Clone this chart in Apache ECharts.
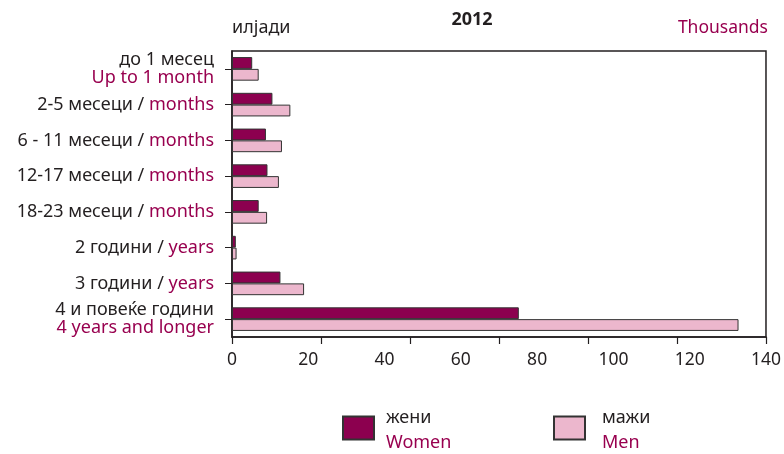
<!DOCTYPE html>
<html><head><meta charset="utf-8">
<script src="https://cdn.jsdelivr.net/npm/echarts@6/dist/echarts.min.js"></script>
<style>html,body{margin:0;padding:0;background:#fff}#c{width:784px;height:454px}</style>
</head><body><div id="c"></div>
<script>
const categoriesMk = ['до 1 месец', '2-5 месеци', '6 - 11 месеци', '12-17 месеци', '18-23 месеци', '2 години', '3 години', '4 и повеќе години'];
const categoriesEn = ['Up to 1 month', 'months', 'months', 'months', 'months', 'years', 'years', '4 years and longer'];
const women = [5.3, 10.6, 8.9, 9.3, 7.0, 1.0, 12.7, 75.2];
const men = [7.0, 15.3, 13.1, 12.3, 9.2, 1.2, 18.9, 132.8];
const xTicks = [0, 20, 40, 60, 80, 100, 120, 140];

const DARK = '#231F20', MAG = '#98004F';
const FONT = '"Noto Sans", sans-serif';
const chart = echarts.init(document.getElementById('c'));
const labels = categoriesMk.map((mk, i) => {
  const en = categoriesEn[i];
  if (i === 0 || i === categoriesMk.length - 1) return '{k|' + mk + '}\n{m|' + en + '}';
  return '{k|' + mk + ' / }{m|' + en + '}';
});
const legRich = { a: { fontSize: 18, color: DARK, lineHeight: 25, fontFamily: FONT }, b: { fontSize: 18, color: MAG, lineHeight: 25, fontFamily: FONT } };
chart.setOption({
  animation: false,
  textStyle: { fontFamily: FONT },
  title: [
    { text: '2012', left: 467, top: 6, textAlign: 'center', textStyle: { fontFamily: FONT, fontSize: 18, fontWeight: 'bold', color: DARK } },
    { text: 'илјади', left: 227, top: 14, textStyle: { fontFamily: FONT, fontSize: 18, fontWeight: 'normal', color: DARK } },
    { text: 'Thousands', right: 11, top: 14, textStyle: { fontFamily: FONT, fontSize: 17.5, fontWeight: 'normal', color: MAG } }
  ],
  grid: { left: 232, right: 16, top: 51, height: 286, containLabel: false, show: true, borderColor: DARK, borderWidth: 1.5 },
  legend: [
    { data: ['жени'], left: 337, top: 404, itemWidth: 31, itemHeight: 23, icon: 'rect',
      formatter: n => '{a|жени}\n{b|Women}',
      textStyle: { padding: [5, 0, 0, 7], rich: legRich } },
    { data: ['мажи'], left: 548, top: 404, itemWidth: 31, itemHeight: 23, icon: 'rect',
      formatter: n => '{a|мажи}\n{b|Men}',
      textStyle: { padding: [5, 0, 0, 12], rich: legRich } }
  ],
  xAxis: [
    { type: 'value', min: xTicks[0], max: xTicks[xTicks.length - 1], interval: 20, position: 'bottom',
      axisLine: { show: true, lineStyle: { color: DARK, width: 1.5 } },
      axisTick: { show: false }, splitLine: { show: false },
      axisLabel: { fontSize: 17.5, color: DARK, margin: 14, fontFamily: FONT } },
    { type: 'value', min: 0, max: 120, interval: 20, position: 'bottom',
      axisLine: { show: false }, axisTick: { show: true, length: 7, lineStyle: { color: DARK, width: 1.2 } },
      axisLabel: { show: false }, splitLine: { show: false } }
  ],
  yAxis: {
    type: 'category', data: labels, inverse: true,
    axisLine: { show: true, lineStyle: { color: DARK, width: 1.5 } },
    axisTick: { show: true, alignWithLabel: true, length: 7, lineStyle: { color: DARK } },
    axisLabel: { fontSize: 18, color: DARK, margin: 18, lineHeight: 18, align: 'right', fontFamily: FONT,
      rich: { k: { fontSize: 18, color: DARK, lineHeight: 18, fontFamily: FONT },
              m: { fontSize: 18, color: MAG, lineHeight: 18, fontFamily: FONT } } }
  },
  series: [
    { name: 'жени', type: 'bar', data: women, xAxisIndex: 0, barGap: '0%', barCategoryGap: '34%',
      itemStyle: { color: '#8C004F', borderColor: '#333', borderWidth: 1 } },
    { name: 'мажи', type: 'bar', data: men, xAxisIndex: 0, barGap: '0%', barCategoryGap: '34%',
      itemStyle: { color: '#ECB7CD', borderColor: '#333', borderWidth: 1 } }
  ]
});
</script></body></html>
